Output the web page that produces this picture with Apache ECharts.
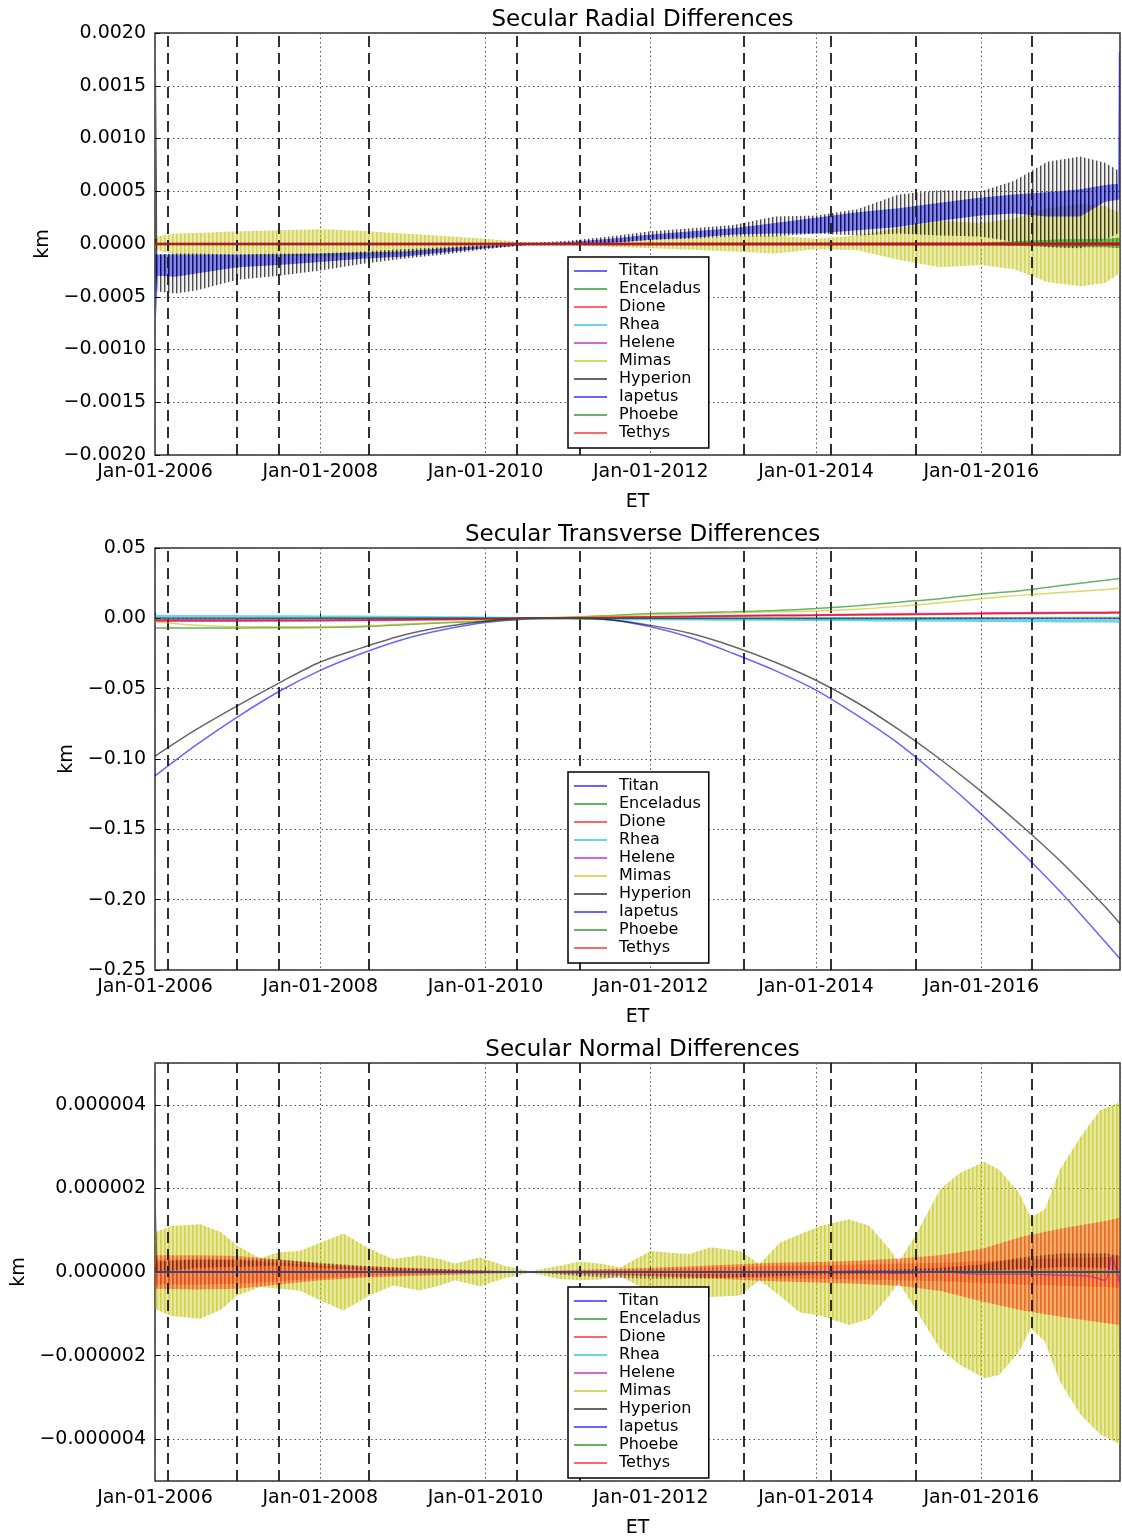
<!DOCTYPE html>
<html>
<head>
<meta charset="utf-8">
<title>Secular Differences</title>
<script src="https://cdn.jsdelivr.net/npm/echarts@6.0.0/dist/echarts.min.js"></script>
<style>
  html, body { margin: 0; padding: 0; background: #fff; }
  #chart { width: 1122px; height: 1539px; }
</style>
</head>
<body>
<div id="chart"></div>
<script>
// legend order of the moons
const moons = ['Titan', 'Enceladus', 'Dione', 'Rhea', 'Helene', 'Mimas', 'Hyperion', 'Iapetus', 'Phoebe', 'Tethys'];
const moonRGB = {
  Titan: '0,0,255', Enceladus: '0,128,0', Dione: '255,0,0', Rhea: '0,191,191', Helene: '191,0,191',
  Mimas: '191,191,0', Hyperion: '0,0,0', Iapetus: '0,0,255', Phoebe: '0,128,0', Tethys: '255,0,0'
};
const panelTitles = ['Secular Radial Differences', 'Secular Transverse Differences', 'Secular Normal Differences'];
const yearTicks = [2006, 2008, 2010, 2012, 2014, 2016];
const tStart = 2006, tEnd = 2017.68;
// dashed event markers (decimal years)
const eventYears = [2006.154, 2006.988, 2007.497, 2008.586, 2010.376, 2011.142, 2013.130, 2014.179, 2015.207, 2016.607];

// flat series (sit on zero, hidden under the others)
const flatT = [2006.0, 2017.68];
const flatZero = [0, 0];

// ---------- radial (km) : envelopes of the oscillating series ----------
const radT = [2006.00, 2006.012, 2006.03, 2006.25, 2006.5, 2007.0, 2007.5, 2008.0, 2008.5, 2009.0, 2009.5, 2010.0, 2010.5, 2011.0, 2011.5, 2012.0, 2012.5, 2013.0, 2013.5, 2014.0, 2014.5, 2015.0, 2015.5, 2016.0, 2016.4, 2016.8, 2017.2, 2017.5, 2017.655, 2017.665, 2017.68];
const hypRadHi = [-1.0e-4, 16.7e-4, -1.0e-4, -0.9e-4, -0.9e-4, -1.0e-4, -0.9e-4, -0.9e-4, -0.7e-4, -0.5e-4, -0.3e-4, -0.1e-4, 0.1e-4, 0.3e-4, 0.7e-4, 1.2e-4, 1.5e-4, 1.8e-4, 2.6e-4, 2.7e-4, 3.3e-4, 4.7e-4, 5.1e-4, 5.0e-4, 6.0e-4, 7.8e-4, 8.3e-4, 7.7e-4, 7.0e-4, 20.0e-4, 20.0e-4];
const hypRadLo = [-2.0e-4, -3.0e-4, -4.5e-4, -4.7e-4, -4.4e-4, -3.4e-4, -3.0e-4, -2.5e-4, -1.9e-4, -1.4e-4, -1.0e-4, -0.5e-4, -0.1e-4, 0.0, 0.1e-4, 0.4e-4, 0.5e-4, 0.7e-4, 0.7e-4, 1.0e-4, 0.8e-4, 1.0e-4, 0.8e-4, 0.7e-4, 0.2e-4, -0.3e-4, -0.4e-4, 0.4e-4, 1.0e-4, 1.0e-4, 1.0e-4];
const titanRadHi = [-1.0e-4, -1.0e-4, -1.0e-4, -1.0e-4, -1.0e-4, -1.0e-4, -1.0e-4, -0.9e-4, -0.8e-4, -0.7e-4, -0.4e-4, -0.2e-4, 0.0, 0.2e-4, 0.5e-4, 0.9e-4, 1.2e-4, 1.5e-4, 2.0e-4, 2.5e-4, 3.0e-4, 3.4e-4, 3.9e-4, 4.4e-4, 4.7e-4, 4.9e-4, 5.2e-4, 5.6e-4, 5.7e-4, 18.2e-4, 18.2e-4];
const titanRadLo = [-2.0e-4, -7.0e-4, -3.0e-4, -3.1e-4, -2.8e-4, -2.2e-4, -2.0e-4, -1.7e-4, -1.4e-4, -1.2e-4, -0.8e-4, -0.4e-4, -0.1e-4, 0.0, 0.1e-4, 0.4e-4, 0.6e-4, 0.9e-4, 1.0e-4, 1.0e-4, 1.3e-4, 1.6e-4, 2.2e-4, 2.7e-4, 2.9e-4, 2.6e-4, 2.6e-4, 4.0e-4, 4.2e-4, 4.2e-4, 4.2e-4];
const mimasRadHi = [0.3e-4, 0.5e-4, 0.7e-4, 1.0e-4, 1.05e-4, 1.2e-4, 1.3e-4, 1.4e-4, 1.25e-4, 1.0e-4, 0.75e-4, 0.5e-4, 0.15e-4, 0.1e-4, 0.25e-4, 0.4e-4, 0.55e-4, 0.7e-4, 0.8e-4, 0.5e-4, 0.8e-4, 1.5e-4, 2.2e-4, 2.0e-4, 2.4e-4, 3.4e-4, 3.8e-4, 3.6e-4, 3.0e-4, 3.0e-4, 3.0e-4];
const mimasRadLo = [-0.3e-4, -0.4e-4, -0.6e-4, -1.0e-4, -1.0e-4, -1.0e-4, -1.1e-4, -1.2e-4, -1.15e-4, -1.0e-4, -0.7e-4, -0.4e-4, -0.15e-4, -0.1e-4, -0.25e-4, -0.4e-4, -0.55e-4, -0.7e-4, -0.9e-4, -0.5e-4, -0.6e-4, -1.5e-4, -2.2e-4, -2.0e-4, -2.4e-4, -3.6e-4, -4.0e-4, -3.7e-4, -2.9e-4, -2.8e-4, -2.8e-4];
const encRadT = [2006.0, 2016.0, 2016.5, 2017.0, 2017.5, 2017.68];
const encRadHi = [0.05e-4, 0.1e-4, 0.3e-4, 0.45e-4, 0.5e-4, 0.6e-4];
const encRadLo = [-0.05e-4, -0.1e-4, -0.2e-4, -0.3e-4, -0.3e-4, -0.4e-4];
const dioneRadHi = [0.15e-4, 0.2e-4];
const dioneRadLo = [-0.15e-4, -0.2e-4];

// ---------- transverse (km) ----------
const trT = [2006.0, 2006.5, 2007.0, 2007.5, 2008.0, 2008.5, 2009.0, 2009.5, 2010.0, 2010.5, 2011.0, 2011.5, 2012.0, 2012.5, 2013.0, 2013.5, 2014.0, 2014.5, 2015.0, 2015.5, 2016.0, 2016.5, 2017.0, 2017.5, 2017.68];
const titanTr = [-0.112, -0.090, -0.070, -0.052, -0.037, -0.025, -0.015, -0.008, -0.003, -0.0005, 0.0, -0.001, -0.006, -0.014, -0.025, -0.037, -0.051, -0.069, -0.089, -0.113, -0.139, -0.167, -0.197, -0.230, -0.242];
const hypTr = [-0.098, -0.079, -0.062, -0.046, -0.031, -0.021, -0.012, -0.006, -0.002, 0.0, 0.0, -0.001, -0.005, -0.011, -0.020, -0.031, -0.044, -0.060, -0.079, -0.100, -0.123, -0.148, -0.175, -0.205, -0.217];
const encTr = [-0.0068, -0.0068, -0.0068, -0.0067, -0.0065, -0.006, -0.0045, -0.0032, -0.002, -0.0005, 0.0008, 0.002, 0.0035, 0.004, 0.0046, 0.0055, 0.007, 0.009, 0.0115, 0.014, 0.0172, 0.0198, 0.0235, 0.027, 0.0284];
const mimasTr = [-0.0025, -0.005, -0.006, -0.006, -0.006, -0.0055, -0.004, -0.003, -0.0015, 0.0, 0.0008, 0.0017, 0.0025, 0.0032, 0.004, 0.0046, 0.0052, 0.0065, 0.0085, 0.011, 0.014, 0.0165, 0.0185, 0.0205, 0.0213];
const dioneTr = [-0.0015, -0.0015, -0.0015, -0.0015, -0.0015, -0.0013, -0.001, -0.0008, -0.0005, 0.0, 0.0003, 0.0007, 0.001, 0.0013, 0.0017, 0.002, 0.0022, 0.0025, 0.0028, 0.0031, 0.0035, 0.0037, 0.0039, 0.004, 0.004];
const tethysTr = [-0.0012, -0.0012, -0.0012, -0.0012, -0.0011, -0.001, -0.0008, -0.0006, -0.0004, 0.0, 0.0003, 0.0006, 0.0009, 0.0012, 0.0015, 0.0018, 0.002, 0.0023, 0.0026, 0.0029, 0.0032, 0.0034, 0.0036, 0.0037, 0.0038];
const heleneTr = [-0.002, -0.002, -0.002, -0.0019, -0.0018, -0.0016, -0.0013, -0.001, -0.0006, 0.0, 0.0004, 0.0008, 0.0012, 0.0016, 0.002, 0.0023, 0.0026, 0.0029, 0.0032, 0.0035, 0.0038, 0.004, 0.0042, 0.0044, 0.0045];
const rheaTr = [0.0015, 0.0015, 0.0014, 0.0013, 0.0012, 0.0011, 0.0009, 0.0006, 0.0004, 0.0, -0.0002, -0.0004, -0.0005, -0.0007, -0.0008, -0.0009, -0.001, -0.0012, -0.0014, -0.0015, -0.0017, -0.0019, -0.002, -0.0021, -0.0022];
const smallTrT = [2006.0, 2010.5, 2017.68];
const phoebeTr = [-0.0004, 0.0, 0.0006];
const iapetusTr = [0.0003, 0.0, -0.0003];

// ---------- normal (km) ----------
const normT = [2006.0, 2006.2, 2006.55, 2006.8, 2007.0, 2007.27, 2007.5, 2007.75, 2008.0, 2008.28, 2008.6, 2008.88, 2009.2, 2009.45, 2009.63, 2009.93, 2010.23, 2010.54, 2010.9, 2011.14, 2011.4, 2011.63, 2012.0, 2012.3, 2012.47, 2012.72, 2013.08, 2013.32, 2013.56, 2013.8, 2014.05, 2014.4, 2014.65, 2014.89, 2015.0, 2015.2, 2015.5, 2015.74, 2016.04, 2016.22, 2016.46, 2016.6, 2016.77, 2016.95, 2017.2, 2017.44, 2017.68];
const mimasNormHi = [0.95e-6, 1.10e-6, 1.14e-6, 0.95e-6, 0.62e-6, 0.33e-6, 0.47e-6, 0.50e-6, 0.70e-6, 0.92e-6, 0.55e-6, 0.31e-6, 0.40e-6, 0.31e-6, 0.20e-6, 0.35e-6, 0.15e-6, 0.02e-6, 0.15e-6, 0.25e-6, 0.20e-6, 0.11e-6, 0.50e-6, 0.45e-6, 0.43e-6, 0.59e-6, 0.50e-6, 0.19e-6, 0.70e-6, 0.90e-6, 1.10e-6, 1.26e-6, 1.10e-6, 0.55e-6, 0.23e-6, 0.86e-6, 1.97e-6, 2.37e-6, 2.64e-6, 2.44e-6, 1.89e-6, 1.30e-6, 1.50e-6, 2.44e-6, 3.23e-6, 3.87e-6, 4.06e-6];
const mimasNormLo = [-0.88e-6, -1.05e-6, -1.12e-6, -0.90e-6, -0.56e-6, -0.36e-6, -0.40e-6, -0.44e-6, -0.68e-6, -0.92e-6, -0.56e-6, -0.32e-6, -0.44e-6, -0.32e-6, -0.20e-6, -0.34e-6, -0.15e-6, -0.02e-6, -0.17e-6, -0.20e-6, -0.18e-6, -0.10e-6, -0.48e-6, -0.42e-6, -0.40e-6, -0.60e-6, -0.56e-6, -0.20e-6, -0.56e-6, -0.96e-6, -1.04e-6, -1.27e-6, -1.12e-6, -0.56e-6, -0.24e-6, -0.88e-6, -1.83e-6, -2.22e-6, -2.54e-6, -2.46e-6, -1.90e-6, -1.35e-6, -1.66e-6, -2.61e-6, -3.41e-6, -3.88e-6, -4.12e-6];
const redNormT = [2006.0, 2006.5, 2007.0, 2007.5, 2008.0, 2008.5, 2009.0, 2009.5, 2010.0, 2010.54, 2011.0, 2011.5, 2012.0, 2012.5, 2013.0, 2013.5, 2014.0, 2014.5, 2015.0, 2015.5, 2016.0, 2016.5, 2017.0, 2017.5, 2017.68];
const dioneNormHi = [0.40e-6, 0.40e-6, 0.38e-6, 0.30e-6, 0.20e-6, 0.14e-6, 0.10e-6, 0.07e-6, 0.04e-6, 0.01e-6, 0.04e-6, 0.07e-6, 0.10e-6, 0.14e-6, 0.18e-6, 0.22e-6, 0.24e-6, 0.27e-6, 0.32e-6, 0.40e-6, 0.55e-6, 0.85e-6, 1.05e-6, 1.22e-6, 1.30e-6];
const dioneNormLo = [-0.40e-6, -0.42e-6, -0.40e-6, -0.30e-6, -0.20e-6, -0.14e-6, -0.10e-6, -0.07e-6, -0.04e-6, -0.01e-6, -0.04e-6, -0.07e-6, -0.10e-6, -0.14e-6, -0.18e-6, -0.22e-6, -0.25e-6, -0.28e-6, -0.33e-6, -0.45e-6, -0.70e-6, -0.92e-6, -1.08e-6, -1.22e-6, -1.27e-6];
const tethysNormHi = [0.30e-6, 0.30e-6, 0.28e-6, 0.22e-6, 0.15e-6, 0.10e-6, 0.07e-6, 0.05e-6, 0.03e-6, 0.01e-6, 0.03e-6, 0.05e-6, 0.07e-6, 0.10e-6, 0.12e-6, 0.15e-6, 0.16e-6, 0.18e-6, 0.20e-6, 0.22e-6, 0.26e-6, 0.30e-6, 0.33e-6, 0.36e-6, 0.38e-6];
const tethysNormLo = [-0.30e-6, -0.30e-6, -0.28e-6, -0.22e-6, -0.15e-6, -0.10e-6, -0.07e-6, -0.05e-6, -0.03e-6, -0.01e-6, -0.03e-6, -0.05e-6, -0.07e-6, -0.10e-6, -0.12e-6, -0.15e-6, -0.16e-6, -0.18e-6, -0.20e-6, -0.22e-6, -0.26e-6, -0.30e-6, -0.33e-6, -0.36e-6, -0.38e-6];
const hypNormT = [2006.0, 2006.012, 2006.03, 2006.5, 2007.0, 2007.5, 2008.0, 2008.5, 2009.0, 2009.5, 2010.0, 2010.54, 2011.0, 2011.5, 2012.0, 2012.5, 2013.0, 2013.5, 2014.0, 2014.5, 2015.0, 2015.5, 2016.0, 2016.5, 2017.0, 2017.5, 2017.655, 2017.665, 2017.68];
const hypNormHi = [0.2e-6, 1.5e-6, 0.25e-6, 0.30e-6, 0.30e-6, 0.30e-6, 0.22e-6, 0.15e-6, 0.10e-6, 0.06e-6, 0.03e-6, 0.0, -0.02e-6, -0.04e-6, -0.05e-6, -0.05e-6, -0.04e-6, -0.02e-6, 0.02e-6, 0.04e-6, 0.06e-6, 0.10e-6, 0.18e-6, 0.35e-6, 0.45e-6, 0.45e-6, 0.40e-6, 0.40e-6, 0.40e-6];
const hypNormLo = [0.0, 0.0, 0.0, 0.10e-6, 0.12e-6, 0.15e-6, 0.10e-6, 0.05e-6, 0.02e-6, 0.0, -0.02e-6, 0.0, -0.08e-6, -0.14e-6, -0.16e-6, -0.16e-6, -0.14e-6, -0.10e-6, -0.06e-6, -0.05e-6, -0.04e-6, -0.02e-6, 0.02e-6, 0.08e-6, 0.12e-6, 0.10e-6, 0.0, -1.87e-6, -1.87e-6];
const heleneNormT = [2006.0, 2014.0, 2014.5, 2015.0, 2015.5, 2016.0, 2016.5, 2017.0, 2017.3, 2017.5, 2017.58, 2017.63, 2017.68];
const heleneNorm = [0, 0, 0.02e-6, -0.03e-6, 0.0, -0.05e-6, -0.05e-6, -0.08e-6, -0.1e-6, -0.2e-6, 0.35e-6, 0.1e-6, -0.3e-6];

// layout of the three panels
const gridTops = [33, 548, 1063];
const gridHeight = 422;
const FONT = 'DejaVu Sans';

// vertical stripe fill that imitates the dense oscillation (alpha per pixel column)
function stripes(rgb, alphas) {
  const c = document.createElement('canvas');
  c.width = alphas.length; c.height = 4;
  const g = c.getContext('2d');
  alphas.forEach((a, i) => {
    g.fillStyle = 'rgba(' + rgb + ',' + a + ')';
    g.fillRect(i, 0, 1, 4);
  });
  return { image: c, repeat: 'repeat' };
}

function band(name, g, t, lo, hi, fill) {
  return {
    type: 'custom', name: name, xAxisIndex: g, yAxisIndex: g, silent: true, clip: true,
    itemStyle: { color: 'rgba(' + moonRGB[name] + ',0.6)' },
    data: t.map((x, i) => [x, lo[i], hi[i]]),
    encode: { x: 0, y: [1, 2] },
    renderItem: function (params, api) {
      if (params.dataIndex !== 0) return null;
      const pts = [];
      for (let i = 0; i < t.length; i++) pts.push(api.coord([t[i], hi[i]]));
      for (let i = t.length - 1; i >= 0; i--) pts.push(api.coord([t[i], lo[i]]));
      return { type: 'polygon', shape: { points: pts }, style: { fill: fill } };
    }
  };
}

function line(name, g, t, v, width) {
  const col = 'rgba(' + moonRGB[name] + ',0.6)';
  return {
    type: 'line', name: name, xAxisIndex: g, yAxisIndex: g, silent: true,
    data: t.map((x, i) => [x, v[i]]),
    showSymbol: false, symbol: 'none', smooth: 0.3,
    lineStyle: { color: col, width: width || 1.5 },
    itemStyle: { color: col, borderWidth: 0 }
  };
}

function events(g) {
  return {
    type: 'line', name: 'events', xAxisIndex: g, yAxisIndex: g, data: [], silent: true,
    markLine: {
      silent: true, z: 3, symbol: ['none', 'none'], label: { show: false },
      emphasis: { disabled: true },
      lineStyle: { color: '#1a1a1a', width: 1.8, type: [11, 6] },
      data: eventYears.map(x => ({ xAxis: x }))
    }
  };
}

function fmt(digits) {
  return function (v) {
    if (Math.abs(v) < 1e-12) v = 0;
    return v.toFixed(digits).replace('-', '\u2212');
  };
}

const series = [
  // radial
  line('Rhea', 0, flatT, flatZero),
  line('Helene', 0, flatT, flatZero),
  line('Iapetus', 0, flatT, flatZero),
  line('Phoebe', 0, flatT, flatZero),
  band('Mimas', 0, radT, mimasRadLo, mimasRadHi, stripes('191,191,0', [0.65, 0.55, 0.3, 0.3])),
  band('Titan', 0, radT, titanRadLo, titanRadHi, stripes('0,0,255', [0.75, 0.6, 0.45, 0.45])),
  band('Hyperion', 0, radT, hypRadLo, hypRadHi, stripes('0,0,0', [0.7, 0.3, 0.05, 0.05])),
  band('Enceladus', 0, encRadT, encRadLo, encRadHi, stripes('0,128,0', [0.7, 0.6, 0.45, 0.45])),
  band('Dione', 0, flatT, dioneRadLo, dioneRadHi, stripes('255,0,0', [0.8, 0.7, 0.55, 0.55])),
  line('Tethys', 0, flatT, flatZero, 1.5),
  events(0),
  // transverse
  line('Titan', 1, trT, titanTr),
  line('Enceladus', 1, trT, encTr),
  line('Dione', 1, trT, dioneTr),
  line('Rhea', 1, trT, rheaTr, 2.5),
  line('Helene', 1, trT, heleneTr),
  line('Mimas', 1, trT, mimasTr),
  line('Hyperion', 1, trT, hypTr),
  line('Iapetus', 1, smallTrT, iapetusTr),
  line('Phoebe', 1, smallTrT, phoebeTr),
  line('Tethys', 1, trT, tethysTr),
  events(1),
  // normal
  line('Titan', 2, flatT, flatZero),
  line('Enceladus', 2, flatT, flatZero),
  line('Rhea', 2, flatT, flatZero),
  line('Iapetus', 2, flatT, flatZero),
  line('Phoebe', 2, flatT, flatZero),
  band('Mimas', 2, normT, mimasNormLo, mimasNormHi, stripes('191,191,0', [0.7, 0.6, 0.35, 0.35])),
  band('Dione', 2, redNormT, dioneNormLo, dioneNormHi, stripes('255,40,0', [0.6, 0.5, 0.3, 0.3])),
  band('Tethys', 2, redNormT, tethysNormLo, tethysNormHi, stripes('230,20,0', [0.4, 0.3, 0.15, 0.15])),
  band('Hyperion', 2, hypNormT, hypNormLo, hypNormHi, stripes('60,0,0', [0.5, 0.3, 0.1, 0.1])),
  line('Helene', 2, heleneNormT, heleneNorm, 1.2),
  events(2)
];

const yRanges = [
  { min: -0.002, max: 0.002, interval: 0.0005, digits: 4, nameGap: 99 },
  { min: -0.25, max: 0.05, interval: 0.05, digits: 2, nameGap: 75 },
  { min: -5e-6, max: 5e-6, splitNumber: 5, digits: 6, nameGap: 124 }
];

const option = {
  animation: false,
  backgroundColor: '#fff',
  textStyle: { fontFamily: FONT },
  title: panelTitles.map((text, i) => ({
    text: text, left: 637.5, top: gridTops[i] - 29, textAlign: 'center',
    textStyle: { fontSize: 23, fontWeight: 'normal', color: '#000', fontFamily: FONT }
  })),
  legend: gridTops.map(top => ({
    data: moons, orient: 'vertical', left: 568, top: top + 224, z: 20,
    icon: 'rect', itemWidth: 33, itemHeight: 2, itemGap: 0,
    itemStyle: { borderWidth: 0 },
    padding: [5, 8, 6, 6], selectedMode: false,
    backgroundColor: '#fff', borderColor: '#000', borderWidth: 1.5, borderRadius: 0,
    textStyle: { fontSize: 16, lineHeight: 18, color: '#000', fontFamily: FONT, padding: [0, 0, 0, 7] }
  })),
  grid: gridTops.map(top => ({
    left: 155, right: 2, top: top, height: gridHeight,
    show: true, borderColor: '#333', borderWidth: 1.5, backgroundColor: 'transparent'
  })),
  xAxis: gridTops.map((top, i) => ({
    type: 'value', gridIndex: i, min: tStart, max: tEnd, interval: 2,
    name: 'ET', nameLocation: 'middle', nameGap: 38,
    nameTextStyle: { fontSize: 19, color: '#000', fontFamily: FONT },
    axisLine: { show: false },
    axisTick: { show: true, inside: true, length: 5, lineStyle: { color: '#000' } },
    axisLabel: {
      fontSize: 19, color: '#000', margin: 8, showMaxLabel: false,
      formatter: v => (yearTicks.indexOf(Math.round(v)) >= 0 && Math.abs(v - Math.round(v)) < 1e-6) ? 'Jan-01-' + Math.round(v) : ''
    },
    splitLine: { show: true, lineStyle: { color: '#555', width: 1, type: [1.5, 3] } }
  })),
  yAxis: yRanges.map((r, i) => {
    const ax = {
      type: 'value', gridIndex: i, min: r.min, max: r.max,
      name: 'km', nameLocation: 'middle', nameGap: r.nameGap,
      nameTextStyle: { fontSize: 19, color: '#000', fontFamily: FONT },
      axisLine: { show: false },
      axisTick: { show: true, inside: true, length: 5, lineStyle: { color: '#000' } },
      axisLabel: { fontSize: 19, color: '#000', margin: 9, formatter: fmt(r.digits) },
      splitLine: { show: true, lineStyle: { color: '#555', width: 1, type: [1.5, 3] } }
    };
    if (r.interval) {
      ax.interval = r.interval;
    } else {
      ax.splitNumber = r.splitNumber;
      ax.axisLabel.showMinLabel = false;
      ax.axisLabel.showMaxLabel = false;
      ax.axisLabel.formatter = v => Math.abs(v) > 4.5e-6 ? '' : fmt(r.digits)(v);
    }
    return ax;
  }),
  series: series
};

const chart = echarts.init(document.getElementById('chart'), null, { renderer: 'canvas' });
chart.setOption(option);
</script>
</body>
</html>
